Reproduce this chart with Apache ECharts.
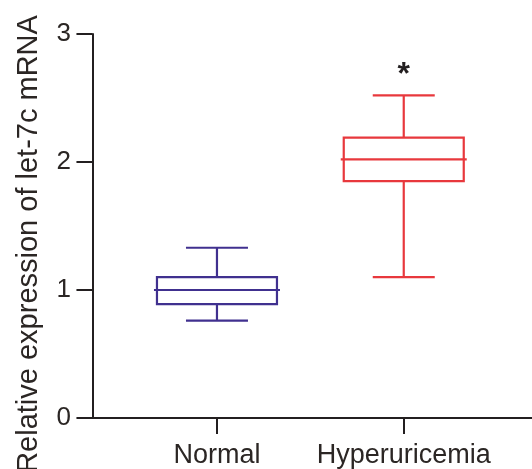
<!DOCTYPE html>
<html>
<head>
<meta charset="utf-8">
<script src="https://cdn.jsdelivr.net/npm/echarts@6/dist/echarts.min.js"></script>
<style>
  html, body { margin: 0; padding: 0; background: #fff; }
  #chart { width: 532px; height: 469px; }
</style>
</head>
<body>
<div id="chart"></div>
<script>
// groups and their box statistics: [min, Q1, median, Q3, max]
const categories = ["Normal", "Hyperuricemia"];
const normalBox = [0.76, 0.89, 1.0, 1.1, 1.33];
const hyperBox = [1.1, 1.85, 2.02, 2.19, 2.52];
const significance = ["", "*"];
const yTicks = [0, 1, 2, 3];

const colors = ["#40308f", "#e8383d"];
const axisColor = "#231f20";
const fontFamily = "'Liberation Sans', Arial, sans-serif";

// x slot of each group on the hidden value scale
const slot = (i) => 1 + i * 1.5;
const boxes = [normalBox, hyperBox];
const seriesData = boxes.map((b, i) => [slot(i)].concat(b).concat([i]));

var myChart = echarts.init(document.getElementById("chart"));

function renderBox(params, api) {
  const i = api.value(6);
  const x = api.value(0);
  const pLow = api.coord([x, api.value(1)]);
  const pQ1 = api.coord([x, api.value(2)]);
  const pMed = api.coord([x, api.value(3)]);
  const pQ3 = api.coord([x, api.value(4)]);
  const pHigh = api.coord([x, api.value(5)]);
  const cx = pMed[0];
  const half = 60;
  const cap = 31;
  const style = { stroke: colors[i], lineWidth: 2.2, fill: null };
  const children = [
    { type: "rect", shape: { x: cx - half, y: pQ3[1], width: half * 2, height: pQ1[1] - pQ3[1] }, style: style },
    { type: "line", shape: { x1: cx - half - 3, y1: pMed[1], x2: cx + half + 3, y2: pMed[1] }, style: style },
    { type: "line", shape: { x1: cx, y1: pQ3[1], x2: cx, y2: pHigh[1] }, style: style },
    { type: "line", shape: { x1: cx, y1: pQ1[1], x2: cx, y2: pLow[1] }, style: style },
    { type: "line", shape: { x1: cx - cap, y1: pHigh[1], x2: cx + cap, y2: pHigh[1] }, style: style },
    { type: "line", shape: { x1: cx - cap, y1: pLow[1], x2: cx + cap, y2: pLow[1] }, style: style },
  ];
  if (significance[i]) {
    children.push({
      type: "text",
      style: {
        text: significance[i],
        x: cx,
        y: pHigh[1] - 4,
        align: "center",
        verticalAlign: "bottom",
        fontSize: 32,
        fontWeight: "bold",
        fontFamily: fontFamily,
        fill: axisColor,
      },
    });
  }
  return { type: "group", children: children };
}

var option = {
  animation: false,
  grid: { left: 80, right: 0, top: 34, bottom: 51, outerBoundsMode: "none" },
  xAxis: {
    type: "value",
    min: -0.1,
    max: 3.53,
    splitLine: { show: false },
    axisLine: { show: true, lineStyle: { color: axisColor, width: 2 } },
    axisTick: {
      show: true,
      length: 16,
      customValues: categories.map((c, i) => slot(i)),
      lineStyle: { color: axisColor, width: 2 },
    },
    axisLabel: {
      customValues: categories.map((c, i) => slot(i)),
      formatter: (v) => categories[Math.round((v - 1) / 1.5)],
      margin: 24,
      color: "#2b2624",
      fontSize: 27,
      fontFamily: fontFamily,
    },
  },
  yAxis: {
    type: "value",
    min: yTicks[0],
    max: yTicks[yTicks.length - 1],
    interval: 1,
    name: "Relative expression of let-7c mRNA",
    nameLocation: "middle",
    nameGap: 37,
    nameTextStyle: {
      color: "#2b2624",
      fontSize: 29,
      fontFamily: fontFamily,
      padding: [0, 36, 0, 0],
    },
    splitLine: { show: false },
    axisLine: { show: true, onZero: true, lineStyle: { color: axisColor, width: 2 } },
    axisTick: { show: true, length: 16, lineStyle: { color: axisColor, width: 2 } },
    axisLabel: {
      margin: 9,
      color: "#2b2624",
      fontSize: 26,
      fontFamily: fontFamily,
    },
  },
  series: [
    {
      type: "custom",
      renderItem: renderBox,
      encode: { x: 0, y: [1, 2, 3, 4, 5] },
      data: seriesData,
      clip: false,
    },
  ],
};

myChart.setOption(option);
</script>
</body>
</html>
